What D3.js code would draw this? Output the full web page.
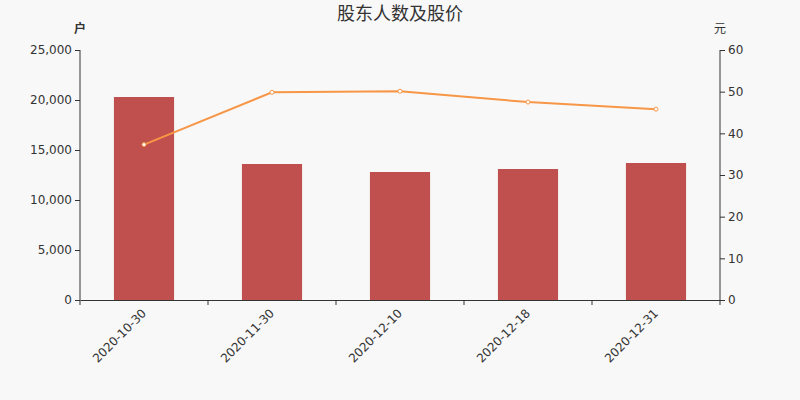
<!DOCTYPE html>
<html>
<head>
<meta charset="utf-8">
<script src="https://cdn.jsdelivr.net/npm/d3@7"></script>
<style>
  body { margin: 0; background: #f8f8f8; }
  svg, svg text { font-family: "DejaVu Sans", "Noto Sans CJK SC", sans-serif; }
</style>
</head>
<body>
<svg id="chart"></svg>
<script>
// chart data
const dates = ["2020-10-30", "2020-11-30", "2020-12-10", "2020-12-18", "2020-12-31"];
const holders = [20300, 13600, 12800, 13100, 13700];
const prices = [37.3, 49.85, 50.1, 47.5, 45.8];
const leftTicks = [0, 5000, 10000, 15000, 20000, 25000];
const rightTicks = [0, 10, 20, 30, 40, 50, 60];

const width = 800;
const height = 400;
const margin = { top: 50, right: 80, bottom: 100, left: 80 };

const svg = d3.select("#chart")
    .attr("width", width)
    .attr("height", height);

svg.append("rect")
    .attr("width", width)
    .attr("height", height)
    .attr("fill", "#f8f8f8");

const x = d3.scaleBand()
    .domain(dates)
    .range([margin.left, width - margin.right]);

const yLeft = d3.scaleLinear()
    .domain([0, 25000])
    .range([height - margin.bottom, margin.top]);

const yRight = d3.scaleLinear()
    .domain([0, 60])
    .range([height - margin.bottom, margin.top]);

// bars
const barWidth = x.bandwidth() * 0.47;
svg.selectAll("rect.bar")
    .data(holders)
    .enter()
    .append("rect")
    .attr("class", "bar")
    .attr("x", (d, i) => x(dates[i]) + (x.bandwidth() - barWidth) / 2)
    .attr("y", d => yLeft(d))
    .attr("width", barWidth)
    .attr("height", d => yLeft(0) - yLeft(d))
    .attr("fill", "#c0504d");

// axes
const axisColor = "#333";

const gLeft = svg.append("g")
    .attr("transform", `translate(${margin.left},0)`)
    .call(d3.axisLeft(yLeft).tickValues(leftTicks).tickSize(5).tickPadding(3).tickFormat(d3.format(",")));

const gRight = svg.append("g")
    .attr("transform", `translate(${width - margin.right},0)`)
    .call(d3.axisRight(yRight).tickValues(rightTicks).tickSize(5).tickPadding(3));

const gBottom = svg.append("g")
    .attr("transform", `translate(0,${height - margin.bottom})`)
    .call(d3.axisBottom(x).tickSize(0));

gBottom.selectAll(".tick text")
    .attr("x", 0)
    .attr("y", 0)
    .attr("dy", "0.35em")
    .attr("transform", "translate(0,11) rotate(-45)")
    .attr("text-anchor", "end")
    .attr("font-size", 12);

// category boundary ticks
const boundaries = dates.map(d => x(d)).concat([x.range()[1]]);
gBottom.selectAll("line.sep")
    .data(boundaries)
    .enter()
    .append("line")
    .attr("class", "sep")
    .attr("x1", d => d)
    .attr("x2", d => d)
    .attr("y1", 0)
    .attr("y2", 5)
    .attr("stroke", axisColor);

[gLeft, gRight, gBottom].forEach(g => {
    g.attr("font-family", null);
    g.selectAll(".domain").attr("stroke", axisColor);
    g.selectAll(".tick line").attr("stroke", axisColor);
    g.selectAll("text").attr("fill", axisColor);
});
gLeft.attr("font-size", 12);
gRight.attr("font-size", 12);
gLeft.selectAll(".domain").attr("d", `M-0,${margin.top}V${height - margin.bottom}`);
gRight.selectAll(".domain").attr("d", `M0,${margin.top}V${height - margin.bottom}`);

// price line
const line = d3.line()
    .x((d, i) => x(dates[i]) + x.bandwidth() / 2)
    .y(d => yRight(d));

svg.append("path")
    .datum(prices)
    .attr("d", line)
    .attr("fill", "none")
    .attr("stroke", "#f79646")
    .attr("stroke-width", 2);

svg.selectAll("circle.price")
    .data(prices)
    .enter()
    .append("circle")
    .attr("class", "price")
    .attr("cx", (d, i) => x(dates[i]) + x.bandwidth() / 2)
    .attr("cy", d => yRight(d))
    .attr("r", 2)
    .attr("fill", "#fff")
    .attr("stroke", "#f79646")
    .attr("stroke-width", 1);

// title and units
svg.append("text")
    .attr("x", width / 2)
    .attr("y", 20)
    .attr("text-anchor", "middle")
    .attr("font-size", 18)
    .attr("fill", "#333")
    .text("股东人数及股价");

svg.append("text")
    .attr("x", 80)
    .attr("y", 33)
    .attr("text-anchor", "middle")
    .attr("font-size", 12)
    .attr("font-weight", "bold")
    .attr("fill", "#333")
    .text("户");

svg.append("text")
    .attr("x", 720)
    .attr("y", 33)
    .attr("text-anchor", "middle")
    .attr("font-size", 12)
    .attr("fill", "#333")
    .text("元");
</script>
</body>
</html>
